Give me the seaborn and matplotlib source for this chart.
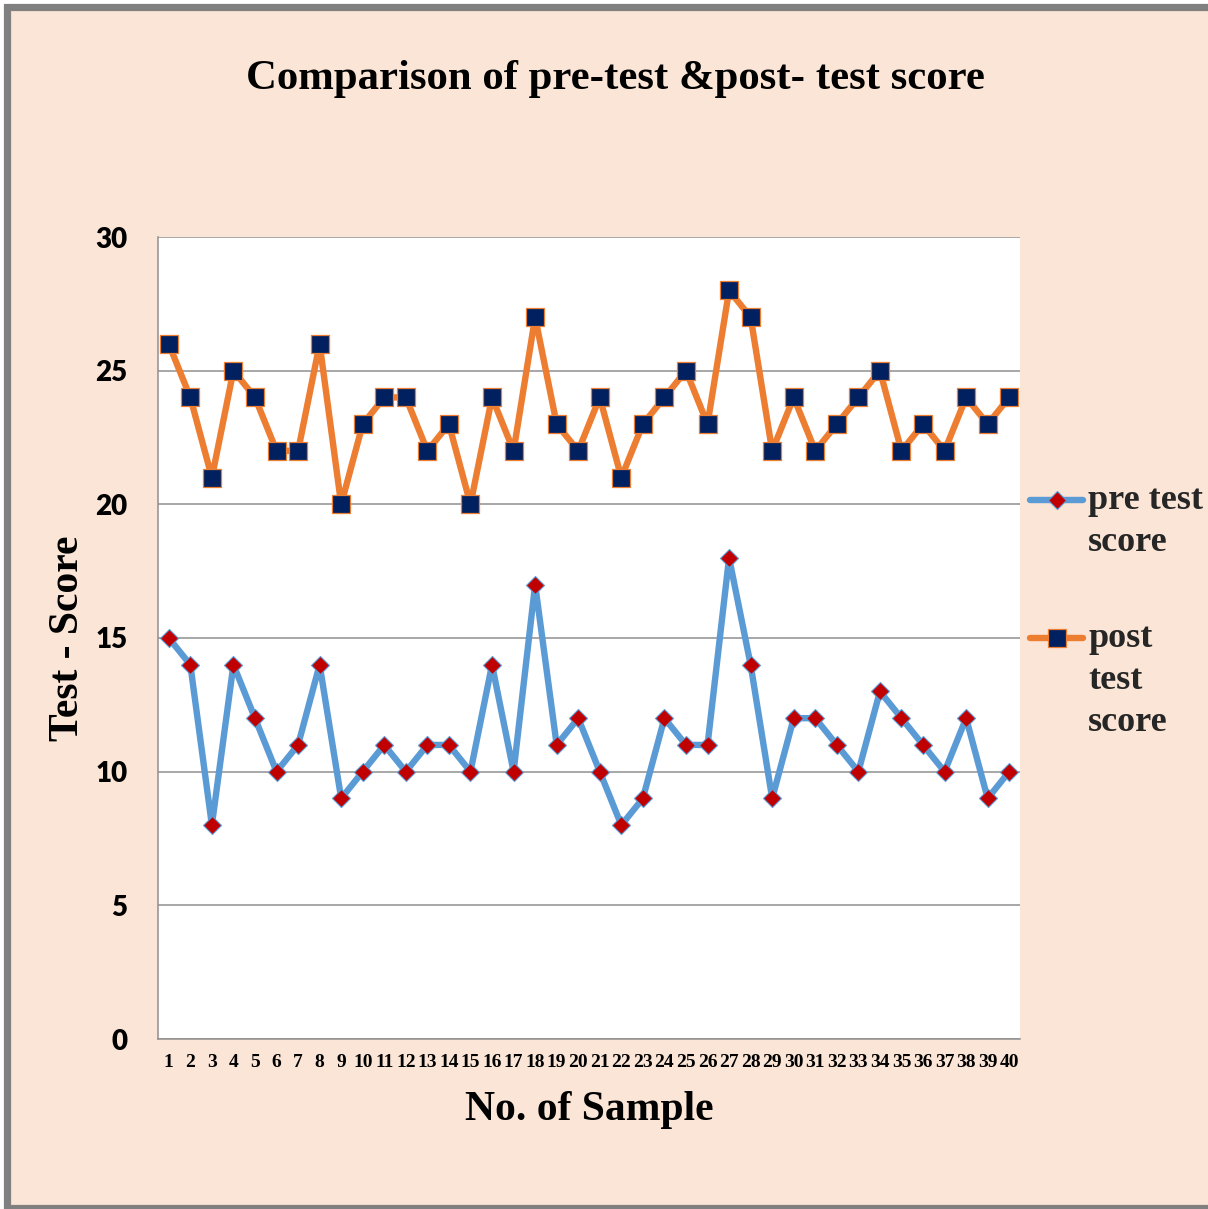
import matplotlib
matplotlib.use("Agg")
import matplotlib.pyplot as plt
import seaborn as sns
import pandas as pd
from matplotlib.patches import Rectangle
from matplotlib.legend_handler import HandlerLine2D

samples = list(range(1, 41))
pre_test = [15, 14, 8, 14, 12, 10, 11, 14, 9, 10, 11, 10, 11, 11, 10, 14, 10, 17, 11, 12,
            10, 8, 9, 12, 11, 11, 18, 14, 9, 12, 12, 11, 10, 13, 12, 11, 10, 12, 9, 10]
post_test = [26, 24, 21, 25, 24, 22, 22, 26, 20, 23, 24, 24, 22, 23, 20, 24, 22, 27, 23, 22,
             24, 21, 23, 24, 25, 23, 28, 27, 22, 24, 22, 23, 24, 25, 22, 23, 22, 24, 23, 24]
series_labels = ["pre test\nscore", "post\ntest\nscore"]
y_ticks = [0, 5, 10, 15, 20, 25, 30]

df = pd.DataFrame({"sample": samples, "pre": pre_test, "post": post_test})

sns.set_theme(style="white")
W, H = 1208, 1209
fig = plt.figure(figsize=(W / 100, H / 100), dpi=100, facecolor="white")

# peach background with grey border
bg = Rectangle((7 / W, 1 / H), 1230 / W, (1208 - 6.5) / H, transform=fig.transFigure,
               facecolor="#FBE5D6", edgecolor="#808080", linewidth=5.2, zorder=-10)
fig.add_artist(bg)

ax = fig.add_axes([158 / W, 1 - 1039 / H, (1020 - 158) / W, (1039 - 237) / H])
ax.set_facecolor("white")

sns.lineplot(data=df, x="sample", y="pre", ax=ax, color="#5B9BD5", linewidth=4.6,
             marker="D", markersize=9.5, markerfacecolor="#C00000", markeredgecolor="#5B9BD5",
             markeredgewidth=0.8, label=series_labels[0], zorder=3)
sns.lineplot(data=df, x="sample", y="post", ax=ax, color="#ED7D31", linewidth=4.6,
             marker="s", markersize=12.5, markerfacecolor="#002060", markeredgecolor="#ED7D31",
             markeredgewidth=0.9, label=series_labels[1], zorder=3)

ax.set_xlim(0.5, 40.5)
ax.set_ylim(0, 30)
ax.set_yticks(y_ticks)
ax.set_xticks(samples)
ax.set_xticklabels([str(s) for s in samples])
ax.yaxis.grid(True, color="#8f8f8f", linewidth=1.1)
ax.xaxis.grid(False)
ax.set_axisbelow(True)
for s in ["top", "right"]:
    ax.spines[s].set_visible(False)
for s in ["left", "bottom"]:
    ax.spines[s].set_color("#8f8f8f")
    ax.spines[s].set_linewidth(1.1)

ax.tick_params(axis="y", length=0, pad=22)
ax.tick_params(axis="x", length=0, pad=11)
for t in ax.get_yticklabels():
    t.set_fontfamily("Lato")
    t.set_fontweight("heavy")
    t.set_fontsize(20)
    t.set_color("black")
for t in ax.get_xticklabels():
    t.set_fontfamily("Liberation Serif")
    t.set_fontweight("bold")
    t.set_fontsize(14)
    t.set_color("black")

ax.set_xlabel("No. of Sample", fontfamily="Liberation Serif", fontweight="bold",
              fontsize=30, color="black")
ax.xaxis.set_label_coords(0.5, -0.0645)
ax.xaxis.label.set_va("top")
ax.set_ylabel("Test - Score", fontfamily="Liberation Serif", fontweight="bold",
              fontsize=30, color="black")
ax.yaxis.set_label_coords(-0.082, 0.5)

fig.text(615 / W, 1 - 79 / H, "Comparison of pre-test &post- test score",
         ha="center", va="center", fontfamily="Liberation Serif", fontweight="bold",
         fontsize=30.8, color="black")


class TopHandler(HandlerLine2D):
    def __init__(self, shift, **kw):
        super().__init__(**kw)
        self.shift = shift

    def create_artists(self, legend, orig_handle, xdescent, ydescent, width, height,
                       fontsize, trans):
        arts = super().create_artists(legend, orig_handle, xdescent, ydescent, width,
                                      height, fontsize, trans)
        for a in arts:
            yd = a.get_ydata()
            a.set_ydata([v + self.shift for v in yd])
        return arts


leg_fs = 26
line_step_pt = 43 * 0.72
handles, labels = ax.get_legend_handles_labels()
hmap = {}
for h, l in zip(handles, labels):
    n = l.count("\n") + 1
    hmap[h] = TopHandler(line_step_pt * (n - 1) / 2)
leg = fig.legend(handles, labels, loc="upper left", bbox_to_anchor=(1030 / W, 1 - 484 / H),
                 frameon=False, handlelength=1.47, handletextpad=0.14, borderpad=0,
                 borderaxespad=0, labelspacing=1.75, handler_map=hmap,
                 prop={"family": "Liberation Serif", "weight": "bold", "size": leg_fs})
for t in leg.get_texts():
    t.set_linespacing(1.36)
ax.get_legend().remove()

fig.savefig("out.png", dpi=100, facecolor=fig.get_facecolor())
